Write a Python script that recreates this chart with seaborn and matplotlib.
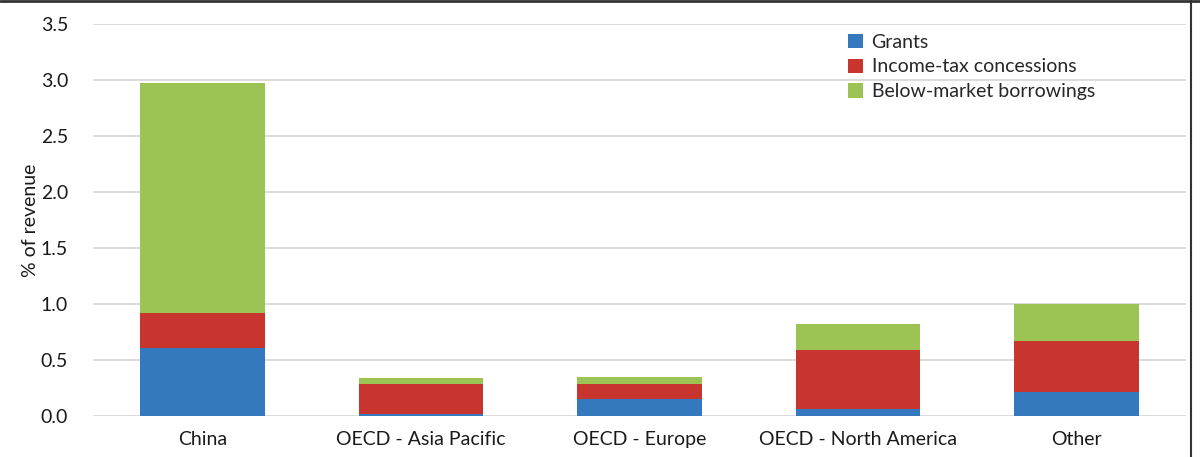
import numpy as np
import pandas as pd
import seaborn as sns
import matplotlib.pyplot as plt
from matplotlib.patches import Patch
from matplotlib.lines import Line2D

regions = ["China", "OECD - Asia Pacific", "OECD - Europe", "OECD - North America", "Other"]
grants = [0.61, 0.02, 0.15, 0.06, 0.21]
income_tax = [0.31, 0.27, 0.14, 0.53, 0.46]
below_market = [2.05, 0.05, 0.06, 0.23, 0.33]

series = ["Grants", "Income-tax concessions", "Below-market borrowings"]
colors = ["#3479BE", "#C8352F", "#9BC455"]

sns.set_theme(style="white")
plt.rcParams["font.family"] = ["Lato", "DejaVu Sans"]

df = pd.DataFrame({"region": regions, "Grants": grants,
                   "Income-tax concessions": income_tax,
                   "Below-market borrowings": below_market})
cum = df[series].cumsum(axis=1)

fig = plt.figure(figsize=(12, 4.57), dpi=100)
ax = fig.add_axes([0.0775, 0.0897, 0.9108, 0.8578])

# stacked bars: draw tallest cumulative first
for name, col in reversed(list(zip(series, colors))):
    sns.barplot(x=df["region"], y=cum[name], color=col, width=0.57,
                saturation=1, linewidth=0, ax=ax, zorder=3)

ax.set_ylim(0, 3.5)
ax.set_xlim(-0.5, 4.5)
ax.set_yticks(np.arange(0, 3.51, 0.5))
ax.set_yticklabels([f"{v:.1f}" for v in np.arange(0, 3.51, 0.5)])
ax.yaxis.grid(True, color="#D9D9D9", linewidth=1.3, zorder=0)
ax.set_axisbelow(True)
for s in ax.spines.values():
    s.set_visible(False)
ax.tick_params(axis="both", length=0, labelsize=14, colors="#1a1a1a")
ax.tick_params(axis="x", pad=11)
ax.tick_params(axis="y", pad=18)
ax.set_xlabel("")
ax.set_ylabel("% of revenue", fontsize=14, color="#1a1a1a", labelpad=1)

handles = [Patch(facecolor=c, edgecolor="none") for c in colors]
ax.legend(handles, series, loc="upper left", bbox_to_anchor=(0.675, 1.02),
          frameon=False, fontsize=14, handlelength=0.75, handleheight=0.75,
          handletextpad=0.45, labelspacing=0.4)

fig.add_artist(Line2D([0, 1], [0.998, 0.998], color="#333333", linewidth=2))
fig.add_artist(Line2D([0.9925, 0.9925], [0, 1], color="#333333", linewidth=1.5))

fig.savefig("out.png", dpi=100)
